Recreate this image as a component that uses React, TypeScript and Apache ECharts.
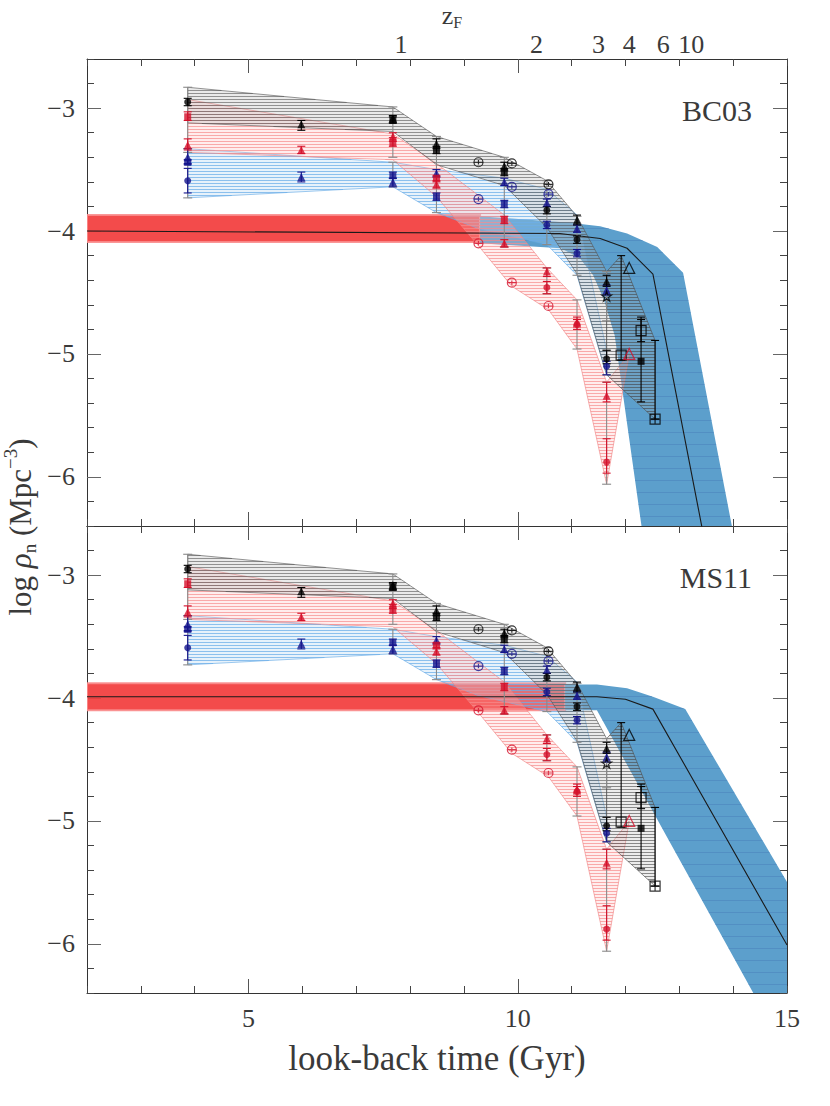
import React, { useEffect, useRef } from "react";
import * as echarts from "echarts";

// ---------- axes ----------
const X_MIN = 2;
const X_MAX = 15;
const Y_MIN = -6.4;
const Y_MAX = -2.6;
const xLabelValues = [5, 10, 15];
const xMajorTickValues = [5, 10];
const yMajorValues = [-3, -4, -5, -6];
const zfGyr = [7.83, 10.35, 11.5, 12.07, 12.7, 13.22];
const zfLabels = ["1", "2", "3", "4", "6", "10"];
const panelNames = ["BC03", "MS11"];

// ---------- observational envelopes [lookback Gyr, log rho] ----------
const blackBandUpper = [[3.87, -2.83], [7.68, -2.99], [8.49, -3.23], [9.75, -3.40], [10.54, -3.59], [11.10, -3.88], [11.65, -4.33]];
const blackBandLower = [[3.87, -3.12], [7.68, -3.19], [8.49, -3.46], [9.75, -3.63], [10.54, -3.97], [11.10, -4.35], [11.65, -5.17]];
const redBandUpper = [[3.87, -2.93], [7.68, -3.21], [8.49, -3.45], [9.75, -3.87], [10.54, -4.30], [11.10, -4.56], [11.65, -5.23], [12.07, -5.0]];
const redBandLower = [[3.87, -3.36], [7.68, -3.42], [8.49, -3.72], [9.27, -4.12], [9.89, -4.45], [10.57, -4.64], [11.10, -4.96], [11.65, -6.06], [12.07, -5.0]];
const blueBandUpper = [[3.87, -3.33], [7.68, -3.44], [8.49, -3.50], [9.75, -3.57], [10.54, -3.66], [11.10, -3.87], [11.65, -4.97]];
const blueBandLower = [[3.87, -3.73], [7.68, -3.64], [8.49, -3.85], [9.27, -3.98], [10.54, -4.11], [11.10, -4.36], [11.65, -5.17]];
const highzBandUpper = [[11.65, -4.33], [11.92, -4.20], [12.55, -4.89]];
const highzBandLower = [[11.65, -5.17], [12.55, -5.53]];

// envelope bars [x, top, bottom]
const envelopeBars = [
  [3.87, -2.83, -3.36], [3.87, -3.33, -3.73],
  [7.68, -2.99, -3.40], [7.68, -3.44, -3.64],
  [8.49, -3.23, -3.85],
  [9.75, -3.40, -4.13],
  [10.54, -3.59, -4.11], [10.54, -4.30, -4.51],
  [11.10, -3.88, -4.36], [11.10, -4.56, -4.96],
  [11.65, -4.33, -4.73], [11.65, -4.97, -5.17], [11.65, -5.23, -6.06],
];

// ---------- data points [x, y, lowEnd, highEnd] ----------
const blackTri = [[5.98, -3.13, -3.18, -3.10], [7.68, -3.08, -3.12, -3.06], [8.49, -3.29, -3.33, -3.25], [9.75, -3.47, -3.51, -3.44], [11.10, -3.91, -3.95, -3.87], [11.65, -4.41, -4.45, -4.36]];
const blackSq = [[7.68, -3.10, -3.12, -3.07], [8.49, -3.34, -3.37, -3.31], [9.75, -3.52, -3.55, -3.49]];
const blackCirc = [[3.87, -2.95, -2.98, -2.92], [10.54, -3.83, -3.86, -3.80], [11.10, -4.07, -4.10, -4.04], [11.65, -5.04, -5.08, -4.97]];
const redTri = [[3.87, -3.30, -3.34, -3.25], [5.98, -3.34, -3.37, -3.31], [7.68, -3.23, -3.27, -3.20], [8.49, -3.62, -3.65, -3.59], [9.75, -4.10, -4.13, -4.07], [10.54, -4.33, -4.37, -4.30], [11.10, -4.74, -4.78, -4.70], [11.65, -5.34, -5.39, -5.23]];
const redSq = [[3.87, -3.07, -3.10, -3.03], [7.68, -3.28, -3.31, -3.24], [8.49, -3.57, -3.60, -3.55], [9.75, -3.91, -3.94, -3.88]];
const redCirc = [[10.54, -4.46, -4.51, -4.41], [11.10, -4.76, -4.80, -4.72], [11.65, -5.88, -5.97, -5.69]];
const blueTri = [[3.87, -3.40, -3.45, -3.33], [5.98, -3.56, -3.60, -3.52], [7.68, -3.60, -3.64, -3.57], [8.49, -3.53, -3.56, -3.50], [9.75, -3.60, -3.63, -3.57], [10.54, -3.77, -3.80, -3.74], [11.10, -3.98, -4.01, -3.95], [11.65, -4.48, -4.52, -4.44]];
const blueSq = [[3.87, -3.44, -3.46, -3.42], [7.68, -3.55, -3.57, -3.52], [8.49, -3.72, -3.75, -3.69], [9.75, -3.78, -3.81, -3.75]];
const blueCirc = [[3.87, -3.59, -3.69, -3.49], [10.54, -3.95, -3.98, -3.92], [11.10, -4.18, -4.21, -4.15], [11.65, -5.10, -5.17, -5.06]];
const blackOpenCirc = [[9.27, -3.44], [9.89, -3.45], [10.57, -3.62]];
const blueOpenCirc = [[9.27, -3.74], [9.89, -3.64], [10.57, -3.70]];
const redOpenCirc = [[9.27, -4.10], [9.89, -4.42], [10.57, -4.61]];
const openStar = [[11.65, -4.53]];
const openSq = [[11.92, -5.01, -5.05, -4.20], [12.29, -4.81, -4.90, -4.72]];
const filledSq = [[12.29, -5.06, -5.39, -4.70]];
const openTri = [[12.07, -4.30]];
const redOpenTri = [[12.07, -5.00]];
const crossSq = [[12.55, -5.53, -5.53, -4.89]];

// ---------- models ----------
const bc03RedUpper = [[2, -3.87], [9.30, -3.87]];
const bc03RedLower = [[2, -4.09], [9.30, -4.09]];
const bc03BlueUpper = [[9.30, -3.88], [10.92, -3.93], [11.53, -3.96], [12.03, -4.02], [12.59, -4.13], [13.07, -4.34], [14.02, -6.5]];
const bc03BlueLower = [[9.30, -4.10], [10.80, -4.14], [11.15, -4.22], [11.40, -4.36], [11.60, -4.56], [11.80, -4.85], [12.33, -6.5]];
const bc03Line = [[2, -4.0], [10.78, -4.02], [11.53, -4.06], [12.03, -4.14], [12.51, -4.35], [13.5, -6.59]];

const ms11RedUpper = [[2, -3.88], [10.88, -3.88]];
const ms11RedLower = [[2, -4.10], [10.88, -4.10]];
const ms11BlueUpper = [[10.88, -3.89], [11.47, -3.89], [12.03, -3.92], [12.51, -3.99], [13.11, -4.09], [15.3, -5.72]];
const ms11BlueLower = [[10.88, -4.10], [11.47, -4.10], [14.5, -6.5], [15.3, -6.5]];
const ms11Line = [[2, -3.99], [11.47, -3.99], [12.0, -4.01], [12.51, -4.09], [15.0, -6.01]];

const models = [
  { redU: bc03RedUpper, redL: bc03RedLower, blueU: bc03BlueUpper, blueL: bc03BlueLower, line: bc03Line },
  { redU: ms11RedUpper, redL: ms11RedLower, blueU: ms11BlueUpper, blueL: ms11BlueLower, line: ms11Line },
];

// ---------- styling ----------
const FONT = '"Liberation Serif", "DejaVu Serif", serif';
const TXT = "#3a3a3a";
const BLACK = "#000";
const RED = "#d4102a";
const BLUE = "#14148c";

const PATH_CIRC_BAR = "path://M0,10A10,10,0,1,1,20,10A10,10,0,1,1,0,10ZM0,10L20,10M10,5L10,15";
const PATH_STAR = "path://M10,0L12.4,7.2L20,7.2L13.8,11.8L16.2,19L10,14.5L3.8,19L6.2,11.8L0,7.2L7.6,7.2Z";
const PATH_CROSS_SQ = "path://M0,0L20,0L20,20L0,20ZM0,10L20,10M10,0L10,20";

function hatchLines(pts: number[][], spacing: number, color: string, width: number) {
  let minY = Infinity;
  let maxY = -Infinity;
  for (const p of pts) {
    if (p[1] < minY) minY = p[1];
    if (p[1] > maxY) maxY = p[1];
  }
  const out: any[] = [];
  const n = pts.length;
  const start = Math.ceil(minY / spacing) * spacing + 0.5;
  for (let y = start; y < maxY; y += spacing) {
    const xs: number[] = [];
    for (let i = 0; i < n; i++) {
      const a = pts[i];
      const b = pts[(i + 1) % n];
      if ((a[1] <= y && b[1] > y) || (b[1] <= y && a[1] > y)) {
        const t = (y - a[1]) / (b[1] - a[1]);
        xs.push(a[0] + t * (b[0] - a[0]));
      }
    }
    xs.sort((p, q) => p - q);
    for (let k = 0; k + 1 < xs.length; k += 2) {
      out.push({ type: "line", silent: true, shape: { x1: xs[k], y1: y, x2: xs[k + 1], y2: y }, style: { stroke: color, lineWidth: width } });
    }
  }
  return out;
}

function bandSeries(upper: number[][], lower: number[][], p: number, z: number, o: any) {
  const poly = [...upper, ...lower.slice().reverse()];
  return {
    type: "custom",
    xAxisIndex: p * 4,
    yAxisIndex: p * 4,
    clip: true,
    silent: true,
    z,
    data: [poly[0]],
    encode: { x: 0, y: 1 },
    renderItem: (_params: any, api: any) => {
      const pts = poly.map((q) => api.coord(q));
      const children: any[] = [
        { type: "polygon", silent: true, shape: { points: pts }, style: { fill: o.fill, stroke: o.stroke || "none", lineWidth: o.strokeWidth || 0.8 } },
      ];
      if (o.hatch) children.push(...hatchLines(pts, o.spacing || 3, o.hatch, 1));
      return { type: "group", children };
    },
  };
}

function errorSeries(pts: number[][], color: string, p: number, z: number, cap = 4) {
  return {
    type: "custom",
    xAxisIndex: p * 4,
    yAxisIndex: p * 4,
    clip: true,
    silent: true,
    z,
    data: pts,
    encode: { x: 0, y: 1 },
    renderItem: (_params: any, api: any) => {
      const x = api.value(0);
      const a = api.coord([x, api.value(3)]);
      const b = api.coord([x, api.value(2)]);
      const st = { stroke: color, lineWidth: 1.1 };
      return {
        type: "group",
        children: [
          { type: "line", shape: { x1: a[0], y1: a[1], x2: b[0], y2: b[1] }, style: st },
          { type: "line", shape: { x1: a[0] - cap, y1: a[1], x2: a[0] + cap, y2: a[1] }, style: st },
          { type: "line", shape: { x1: b[0] - cap, y1: b[1], x2: b[0] + cap, y2: b[1] }, style: st },
        ],
      };
    },
  };
}

function scatterSeries(pts: number[][], symbol: string, size: number, color: string, p: number, z: number, open = false) {
  return {
    type: "scatter",
    xAxisIndex: p * 4,
    yAxisIndex: p * 4,
    silent: true,
    z,
    symbol,
    symbolSize: size,
    data: pts.map((q) => [q[0], q[1]]),
    itemStyle: open ? { color: "rgba(0,0,0,0)", borderColor: color, borderWidth: 1.2 } : { color, borderWidth: 0 },
  };
}

function panelSeries(p: number) {
  const m = models[p];
  const s: any[] = [];
  s.push(bandSeries(m.redU, m.redL, p, 1, { fill: "rgba(242,60,60,0.92)", stroke: "rgba(250,140,140,0.9)", strokeWidth: 2 }));
  s.push(bandSeries(m.blueU, m.blueL, p, 2, { fill: "#5c9fcc", hatch: "rgba(70,125,185,0.45)", spacing: 12 }));
  s.push(bandSeries(blueBandUpper, blueBandLower, p, 3, { fill: "rgba(170,210,242,0.28)", stroke: "rgba(100,170,230,0.8)", hatch: "rgba(110,175,232,0.75)" }));
  s.push(bandSeries(redBandUpper, redBandLower, p, 4, { fill: "rgba(255,185,185,0.25)", stroke: "rgba(240,130,130,0.8)", hatch: "rgba(246,140,140,0.7)" }));
  s.push(bandSeries(blackBandUpper, blackBandLower, p, 5, { fill: "rgba(170,170,170,0.25)", stroke: "rgba(90,90,90,0.8)", hatch: "rgba(85,85,85,0.6)" }));
  s.push(bandSeries(highzBandUpper, highzBandLower, p, 5, { fill: "rgba(170,170,170,0.22)", stroke: "rgba(80,80,80,0.8)", hatch: "rgba(70,70,70,0.6)" }));
  s.push({
    type: "line",
    xAxisIndex: p * 4,
    yAxisIndex: p * 4,
    silent: true,
    z: 6,
    clip: true,
    showSymbol: false,
    data: m.line,
    lineStyle: { color: "#1a1a1a", width: 1.1 },
  });
  s.push(errorSeries(envelopeBars.map((b) => [b[0], (b[1] + b[2]) / 2, b[2], b[1]]), "#8a8a8a", p, 7, 4.5));
  s.push(errorSeries(blueTri, BLUE, p, 8), errorSeries(blueSq, BLUE, p, 8), errorSeries(blueCirc, BLUE, p, 8));
  s.push(errorSeries(redTri, RED, p, 8), errorSeries(redSq, RED, p, 8), errorSeries(redCirc, RED, p, 8));
  s.push(errorSeries(blackTri, BLACK, p, 8), errorSeries(blackSq, BLACK, p, 8), errorSeries(blackCirc, BLACK, p, 8));
  s.push(errorSeries(openSq, BLACK, p, 8), errorSeries(filledSq, BLACK, p, 8), errorSeries(crossSq, BLACK, p, 8));
  s.push(scatterSeries(blueTri, "triangle", 8, BLUE, p, 9), scatterSeries(blueSq, "rect", 7, BLUE, p, 9), scatterSeries(blueCirc, "circle", 7, BLUE, p, 9));
  s.push(scatterSeries(redTri, "triangle", 8, RED, p, 9), scatterSeries(redSq, "rect", 7, RED, p, 9), scatterSeries(redCirc, "circle", 7, RED, p, 9));
  s.push(scatterSeries(blackTri, "triangle", 8, BLACK, p, 9), scatterSeries(blackSq, "rect", 7, BLACK, p, 9), scatterSeries(blackCirc, "circle", 7, BLACK, p, 9));
  s.push(scatterSeries(blackOpenCirc, PATH_CIRC_BAR, 9, BLACK, p, 9, true));
  s.push(scatterSeries(blueOpenCirc, PATH_CIRC_BAR, 9, BLUE, p, 9, true));
  s.push(scatterSeries(redOpenCirc, PATH_CIRC_BAR, 9, RED, p, 9, true));
  s.push(scatterSeries(openStar, PATH_STAR, 10, BLACK, p, 9, true));
  s.push(scatterSeries(openSq, "rect", 10, BLACK, p, 9, true));
  s.push(scatterSeries(filledSq, "rect", 7, BLACK, p, 9));
  s.push(scatterSeries(openTri, "triangle", 11, BLACK, p, 9, true));
  s.push(scatterSeries(redOpenTri, "triangle", 11, RED, p, 9, true));
  s.push(scatterSeries(crossSq, PATH_CROSS_SQ, 10, BLACK, p, 9, true));
  return s;
}

const labelFont = { fontFamily: FONT, fontSize: 26, color: TXT };

function buildOption() {
  const grid = [
    { left: 87, top: 59, width: 700, height: 467 },
    { left: 87, top: 526, width: 700, height: 467 },
  ];
  const xAxis: any[] = [];
  const yAxis: any[] = [];
  for (let g = 0; g < 2; g++) {
    const cx = { type: "value", min: X_MIN, max: X_MAX, gridIndex: g, splitLine: { show: false } };
    const line = { show: true, onZero: false, lineStyle: { color: "#333", width: 1 } };
    const minorTick = { show: true, inside: true, length: 7, lineStyle: { color: "#444" } };
    const majorTick = { show: true, inside: true, length: 14, customValues: xMajorTickValues, lineStyle: { color: "#555" } };
    xAxis.push({ ...cx, position: "bottom", interval: 1, axisLine: line, axisTick: minorTick, axisLabel: { show: false } });
    xAxis.push({
      ...cx,
      position: "bottom",
      axisLine: { show: false },
      axisTick: majorTick,
      axisLabel: g === 1 ? { show: true, customValues: xLabelValues, margin: 12, ...labelFont } : { show: false },
      name: g === 1 ? "look-back time (Gyr)" : "",
      nameLocation: "middle",
      nameGap: 48,
      nameTextStyle: { fontFamily: FONT, fontSize: 35, color: TXT },
    });
    xAxis.push({ ...cx, position: "top", interval: 1, axisLine: line, axisTick: minorTick, axisLabel: { show: false } });
    xAxis.push({
      ...cx,
      position: "top",
      axisLine: { show: false },
      axisTick: majorTick,
      axisLabel:
        g === 0
          ? {
              show: true,
              customValues: zfGyr,
              margin: 2,
              formatter: (v: number) => {
                const i = zfGyr.findIndex((z) => Math.abs(z - v) < 1e-6);
                return i >= 0 ? zfLabels[i] : "";
              },
              ...labelFont,
            }
          : { show: false },
    });

    const cy = { type: "value", min: Y_MIN, max: Y_MAX, gridIndex: g, splitLine: { show: false } };
    const yMinorTick = { show: true, inside: true, length: 7, lineStyle: { color: "#444" } };
    const yMajorTick = { show: true, inside: true, length: 14, customValues: yMajorValues, lineStyle: { color: "#666" } };
    yAxis.push({ ...cy, position: "left", interval: 0.2, axisLine: line, axisTick: yMinorTick, axisLabel: { show: false } });
    yAxis.push({
      ...cy,
      position: "left",
      axisLine: { show: false },
      axisTick: yMajorTick,
      axisLabel: { show: true, customValues: yMajorValues, margin: 12, formatter: (v: number) => "\u2212" + Math.abs(v), ...labelFont },
    });
    yAxis.push({ ...cy, position: "right", interval: 0.2, axisLine: line, axisTick: yMinorTick, axisLabel: { show: false } });
    yAxis.push({ ...cy, position: "right", axisLine: { show: false }, axisTick: yMajorTick, axisLabel: { show: false } });
  }

  const series = [...panelSeries(0), ...panelSeries(1)];

  const graphic: any[] = [
    {
      type: "text",
      x: 752,
      y: 110,
      silent: true,
      style: { text: panelNames[0], fontFamily: FONT, fontSize: 30, fill: TXT, align: "right", verticalAlign: "middle" },
    },
    {
      type: "text",
      x: 752,
      y: 577,
      silent: true,
      style: { text: panelNames[1], fontFamily: FONT, fontSize: 30, fill: TXT, align: "right", verticalAlign: "middle" },
    },
    {
      type: "text",
      x: 452,
      y: 15,
      silent: true,
      style: {
        text: "{a|z}{s|F}",
        align: "center",
        verticalAlign: "middle",
        fill: TXT,
        rich: {
          a: { fontFamily: FONT, fontSize: 26, lineHeight: 30, fill: TXT },
          s: { fontFamily: FONT, fontSize: 16, lineHeight: 16, verticalAlign: "bottom", fill: TXT },
        },
      },
    },
    {
      type: "text",
      x: 20,
      y: 527,
      rotation: Math.PI / 2,
      silent: true,
      style: {
        text: "{a|log }{i|\u03c1}{s|n}{a| (Mpc}{p|\u22123}{a|)}",
        align: "center",
        verticalAlign: "middle",
        fill: TXT,
        rich: {
          a: { fontFamily: FONT, fontSize: 31, lineHeight: 38, fill: TXT },
          i: { fontFamily: FONT, fontSize: 31, fontStyle: "italic", lineHeight: 38, fill: TXT },
          s: { fontFamily: FONT, fontSize: 19, lineHeight: 19, verticalAlign: "bottom", fill: TXT },
          p: { fontFamily: FONT, fontSize: 19, lineHeight: 19, verticalAlign: "top", fill: TXT },
        },
      },
    },
  ];

  return { animation: false, backgroundColor: "#fff", grid, xAxis, yAxis, series, graphic };
}

export default function App() {
  const ref = useRef<HTMLDivElement>(null);
  useEffect(() => {
    document.body.style.margin = "0";
    if (!ref.current) return;
    const chart = echarts.init(ref.current, undefined, { renderer: "svg" });
    chart.setOption(buildOption() as any);
    return () => chart.dispose();
  }, []);
  return <div ref={ref} style={{ width: 830, height: 1106 }} />;
}
